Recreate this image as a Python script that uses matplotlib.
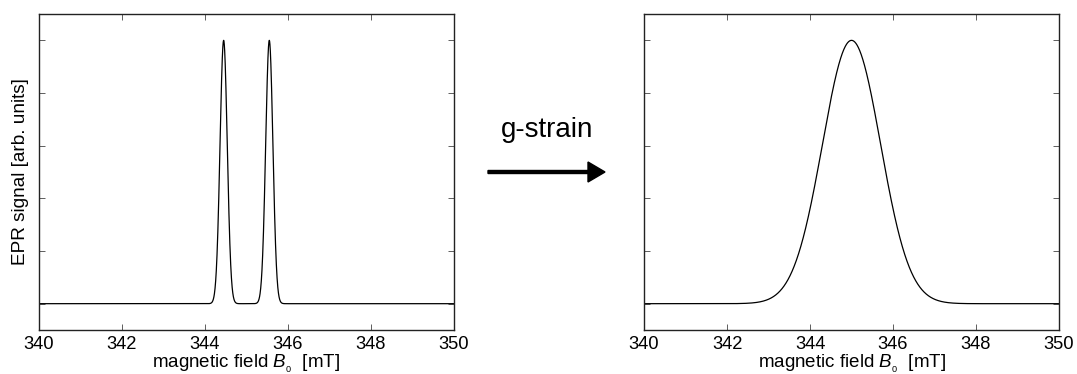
import numpy as np
import matplotlib
matplotlib.use("Agg")
import matplotlib.pyplot as plt

plt.rcParams['font.family'] = ['Liberation Sans', 'DejaVu Sans']
plt.rcParams['mathtext.fontset'] = 'custom'
plt.rcParams['mathtext.rm'] = 'Liberation Sans'
plt.rcParams['mathtext.it'] = 'Liberation Sans:italic'

# resolved lines (left) and strain-broadened line (right), fields in mT
line_centers = [344.45, 345.55]
line_sigma = 0.087
broad_center = 345.0
broad_sigma = 0.70
field_min, field_max = 340.0, 350.0
x_ticks = [340, 342, 344, 346, 348, 350]
y_ticks = [0, 0.2, 0.4, 0.6, 0.8, 1.0]

B = np.linspace(field_min, field_max, 4001)
sig_left = np.zeros_like(B)
for c in line_centers:
    sig_left += np.exp(-0.5 * ((B - c) / line_sigma) ** 2)
sig_left /= sig_left.max()
sig_right = np.exp(-0.5 * ((B - broad_center) / broad_sigma) ** 2)

fig = plt.figure(figsize=(10.77, 3.74), dpi=100)
ax1 = fig.add_axes([0.0362, 0.1176, 0.3853, 0.8449])
ax2 = fig.add_axes([0.598, 0.1176, 0.3853, 0.8449])

for ax, y in [(ax1, sig_left), (ax2, sig_right)]:
    ax.plot(B, y, color='black', lw=0.9)
    ax.set_xlim(field_min, field_max)
    ax.set_ylim(-0.1, 1.1)
    ax.set_xticks(x_ticks)
    ax.set_yticks(y_ticks)
    ax.set_yticklabels([])
    ax.tick_params(direction='in', top=True, right=True, length=4,
                   width=0.6, labelsize=13.2, pad=4, color='#444444')
    for s in ax.spines.values():
        s.set_linewidth(1.0)
        s.set_color('#222222')
    ax.set_xlabel('magnetic field $B_{_0}$  [mT]', fontsize=13.5, labelpad=0)

ax1.set_ylabel('EPR signal [arb. units]', fontsize=13.7, labelpad=3)

fig.text(547 / 1077, 1 - 130 / 374, 'g-strain', fontsize=20,
         ha='center', va='center')
fig.patches.append(matplotlib.patches.FancyArrow(
    488 / 1077, 1 - 172 / 374, 100 / 1077, 0, width=3 / 374,
    head_width=20 / 374, head_length=17 / 1077,
    length_includes_head=False, color='black', transform=fig.transFigure))

fig.savefig('out.png', dpi=100)
